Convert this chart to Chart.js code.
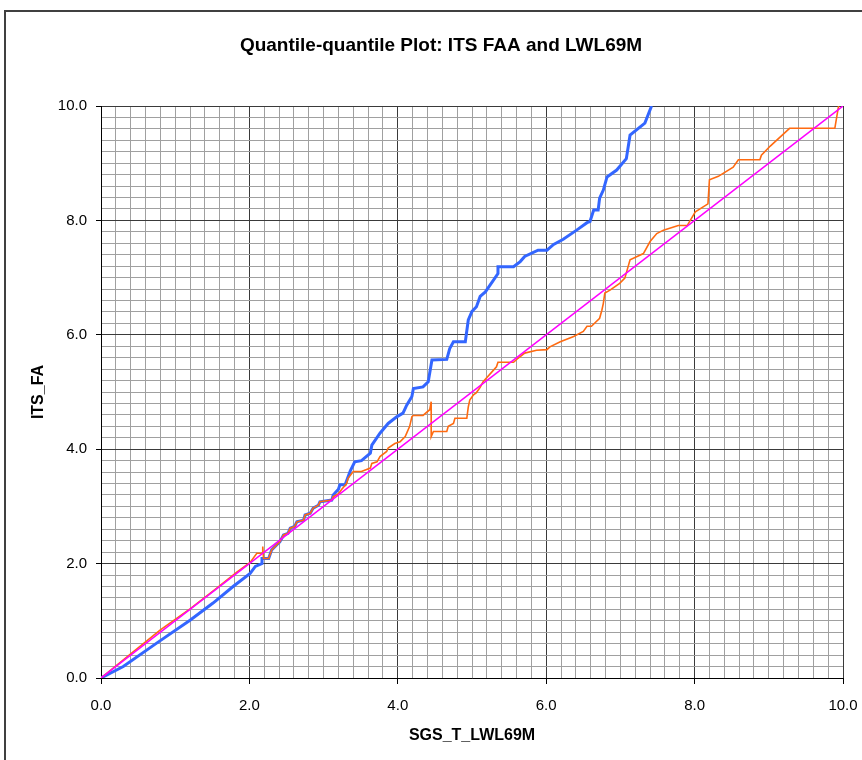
<!DOCTYPE html>
<html>
<head>
<meta charset="utf-8">
<script src="https://cdn.jsdelivr.net/npm/chart.js@4.4.1/dist/chart.umd.min.js"></script>
<style>
  html, body { margin: 0; padding: 0; background: #fff; overflow: hidden; }
  #wrap { position: relative; width: 862px; height: 760px; }
  #marco { position: absolute; left: 4px; top: 10px; width: 900px; height: 800px;
           border: 2px solid #404040; box-sizing: border-box; pointer-events: none; }
</style>
</head>
<body>
<div id="wrap">
  <canvas id="qq" width="862" height="760"></canvas>
  <div id="marco"></div>
</div>
<script>
/* -----------------------------
   DATOS
----------------------------- */
const diagonalX = [0, 10];
const diagonalY = [0, 10];

const naranjaX = [0, 0.40, 0.80, 1.20, 1.56, 1.83, 2.01, 2.10, 2.17, 2.18, 2.19, 2.26,
  2.30, 2.37, 2.41, 2.46, 2.52, 2.55, 2.61, 2.64, 2.73, 2.75, 2.82, 2.86, 2.93, 2.95, 3.11,
  3.13, 3.20, 3.24, 3.31, 3.33, 3.40, 3.51, 3.63, 3.65, 3.72, 3.76, 3.85, 3.87, 3.96, 4.03,
  4.10, 4.12, 4.16, 4.19, 4.21, 4.34, 4.43, 4.45, 4.45, 4.48, 4.66, 4.68, 4.75, 4.77, 4.93,
  4.95, 4.97, 5.02, 5.06, 5.11, 5.15, 5.33, 5.35, 5.56, 5.62, 5.71, 5.87, 6.01, 6.05, 6.19,
  6.37, 6.50, 6.55, 6.61, 6.72, 6.75, 6.77, 6.79, 6.86, 6.99, 7.06, 7.13, 7.31, 7.40, 7.49,
  7.58, 7.78, 7.90, 8.01, 8.18, 8.20, 8.32, 8.52, 8.59, 8.88, 8.90, 9.02, 9.28, 9.89, 9.94];
const naranjaY = [0, 0.42, 0.84, 1.21, 1.57, 1.85, 2.02, 2.18, 2.18, 2.30, 2.09, 2.09,
  2.24, 2.33, 2.38, 2.50, 2.53, 2.62, 2.65, 2.73, 2.76, 2.85, 2.88, 2.97, 3.02, 3.08, 3.11,
  3.17, 3.22, 3.29, 3.40, 3.49, 3.61, 3.61, 3.67, 3.75, 3.78, 3.87, 3.96, 4.02, 4.10, 4.13,
  4.22, 4.28, 4.40, 4.57, 4.59, 4.59, 4.69, 4.83, 4.22, 4.31, 4.31, 4.40, 4.45, 4.54, 4.54,
  4.74, 4.86, 4.95, 4.99, 5.08, 5.18, 5.44, 5.52, 5.52, 5.59, 5.68, 5.73, 5.74, 5.79, 5.88,
  5.97, 6.06, 6.15, 6.15, 6.29, 6.43, 6.55, 6.73, 6.78, 6.90, 6.99, 7.31, 7.42, 7.63, 7.77,
  7.83, 7.91, 7.91, 8.15, 8.29, 8.71, 8.77, 8.93, 9.06, 9.06, 9.14, 9.30, 9.61, 9.61, 10.0];

const azulX = [0, 0.30, 0.75, 1.20, 1.51, 1.78, 2.01, 2.08, 2.17, 2.17, 2.26,
  2.30, 2.37, 2.41, 2.46, 2.52, 2.55, 2.61, 2.64, 2.73, 2.75, 2.82, 2.86, 2.93, 2.95, 3.11,
  3.13, 3.20, 3.22, 3.29, 3.36, 3.42, 3.51, 3.63, 3.65, 3.76, 3.87, 3.99, 4.07, 4.12, 4.19,
  4.21, 4.34, 4.41, 4.46, 4.66, 4.70, 4.75, 4.91, 4.95, 5.00, 5.06, 5.11, 5.18, 5.35, 5.35,
  5.56, 5.65, 5.71, 5.89, 6.01, 6.10, 6.23, 6.41, 6.55, 6.59, 6.64, 6.70, 6.72, 6.77, 6.82,
  6.95, 7.08, 7.13, 7.33, 7.42];
const azulY = [0, 0.20, 0.61, 1.01, 1.31, 1.60, 1.83, 1.95, 2.00, 2.09, 2.09,
  2.24, 2.33, 2.38, 2.50, 2.53, 2.62, 2.65, 2.73, 2.76, 2.85, 2.88, 2.97, 3.02, 3.08, 3.11,
  3.20, 3.30, 3.38, 3.38, 3.62, 3.78, 3.80, 3.93, 4.07, 4.28, 4.45, 4.57, 4.63, 4.77, 4.92,
  5.06, 5.09, 5.18, 5.56, 5.57, 5.76, 5.88, 5.88, 6.26, 6.41, 6.49, 6.67, 6.75, 7.07, 7.19,
  7.19, 7.28, 7.37, 7.48, 7.48, 7.58, 7.67, 7.83, 7.96, 7.98, 8.18, 8.18, 8.39, 8.53, 8.76,
  8.88, 9.08, 9.49, 9.70, 10.0];

/* -----------------------------
   AYUDAS
----------------------------- */
function puntos(xs, ys) {
    return xs.map((x, i) => ({ x: x, y: ys[i] }));
}

function esMayor(valor) {
    return Math.abs(valor / 2 - Math.round(valor / 2)) < 1e-6;
}

const fuenteTicks = { family: "'Liberation Sans', Arial, sans-serif", size: 15 };
const fuenteTitulo = { family: "'Liberation Sans', Arial, sans-serif", size: 16, weight: "bold" };

const gridComun = {
    color: (ctx) => esMayor(ctx.tick.value) ? "#3a3a3a" : "#a0a0a0",
    tickColor: (ctx) => esMayor(ctx.tick.value) ? "#000" : "rgba(0,0,0,0)",
    lineWidth: 1
};

const ticksComun = {
    stepSize: 0.2,
    autoSkip: false,
    maxRotation: 0,
    color: "#000",
    font: fuenteTicks,
    callback: (valor) => esMayor(valor) ? valor.toFixed(1) : ""
};

Chart.defaults.font.family = "'Liberation Sans', Arial, sans-serif";

/* -----------------------------
   GRAFICA
----------------------------- */
new Chart(document.getElementById("qq"), {
    type: "scatter",
    data: {
        datasets: [
            {
                label: "Diagonal",
                data: puntos(diagonalX, diagonalY),
                showLine: true,
                borderColor: "#ff00ff",
                borderWidth: 1.5,
                pointRadius: 0
            },
            {
                label: "LWL69M",
                data: puntos(naranjaX, naranjaY),
                showLine: true,
                borderColor: "#ff6a10",
                borderWidth: 1.6,
                pointRadius: 0
            },
            {
                label: "ITS FAA",
                data: puntos(azulX, azulY),
                showLine: true,
                borderColor: "#3366ff",
                borderWidth: 3,
                pointRadius: 0
            }
        ]
    },
    options: {
        responsive: false,
        animation: false,
        layout: { padding: { left: 20, right: 0, top: 0, bottom: 0 } },
        plugins: {
            legend: { display: false },
            tooltip: { enabled: false },
            title: {
                display: true,
                text: "Quantile-quantile Plot: ITS FAA and LWL69M",
                color: "#000",
                font: { size: 19, weight: "bold" },
                padding: { top: 34, bottom: 49.2 }
            }
        },
        scales: {
            x: {
                type: "linear",
                position: "bottom",
                min: 0,
                max: 10,
                ticks: { ...ticksComun, padding: 13 },
                grid: { ...gridComun, tickLength: 6 },
                border: { color: "#000", width: 1 },
                title: {
                    display: true,
                    text: "SGS_T_LWL69M",
                    color: "#000",
                    font: fuenteTitulo,
                    padding: { top: 0, bottom: 14.6 }
                },
                afterFit: (escala) => {
                    escala.height = 82;
                    escala.paddingLeft = 0;
                    escala.paddingRight = 0;
                }
            },
            y: {
                type: "linear",
                position: "left",
                min: 0,
                max: 10,
                ticks: { ...ticksComun, padding: 9 },
                grid: { ...gridComun, tickLength: 5 },
                border: { color: "#000", width: 1 },
                title: {
                    display: true,
                    text: "ITS_FA",
                    color: "#000",
                    font: fuenteTitulo,
                    padding: { top: 8.6, bottom: 0 }
                },
                afterFit: (escala) => { escala.width = 81; }
            },
            derecha: {
                type: "linear",
                position: "right",
                min: 0,
                max: 10,
                ticks: { display: false },
                grid: { display: false },
                border: { display: false },
                afterFit: (escala) => { escala.width = 19; }
            }
        }
    }
});
</script>
</body>
</html>
